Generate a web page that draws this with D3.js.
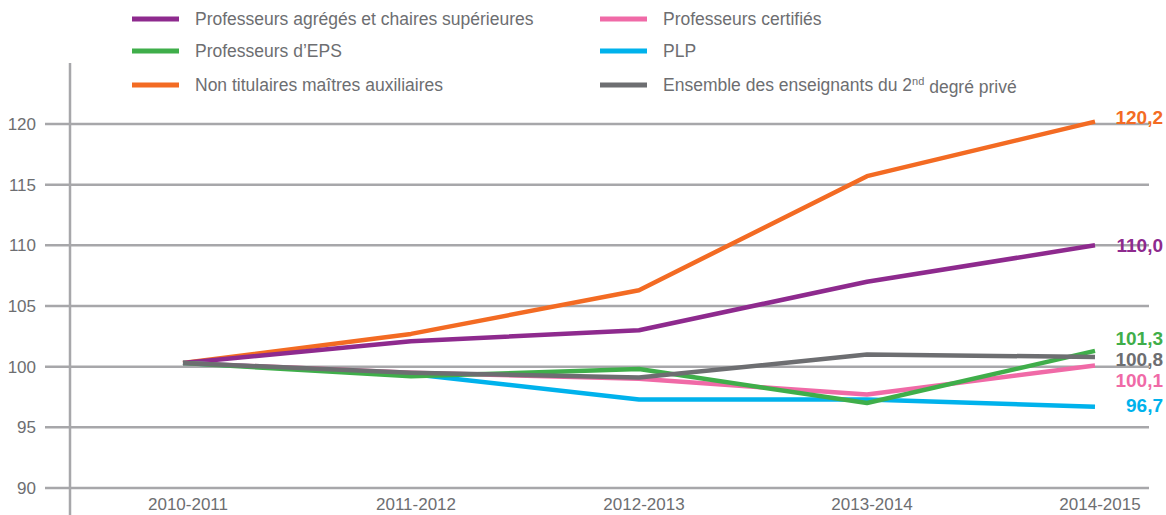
<!DOCTYPE html>
<html>
<head>
<meta charset="utf-8">
<script src="https://cdnjs.cloudflare.com/ajax/libs/d3/7.8.5/d3.min.js"></script>
<style>
body, html { margin: 0; padding: 0; background: #fff; }
svg { font-family: "Liberation Sans", Arial, sans-serif; }
.grid line { stroke: #a7a7aa; stroke-width: 2.5; }
.ylab text { fill: #6d6e71; font-size: 17px; }
.xlab text { fill: #6d6e71; font-size: 17px; }
.legend text { fill: #6d6e71; font-size: 17.5px; }
</style>
</head>
<body>
<div id="chart"></div>
<script>
// years and values
var years = ["2010-2011", "2011-2012", "2012-2013", "2013-2014", "2014-2015"];
var agreges = [100.3, 102.1, 103.0, 107.0, 110.0];
var certifies = [100.3, 99.5, 99.0, 97.7, 100.1];
var eps = [100.3, 99.2, 99.8, 97.0, 101.3];
var plp = [100.3, 99.4, 97.3, 97.3, 96.7];
var nonTitulaires = [100.3, 102.7, 106.3, 115.7, 120.2];
var ensemble = [100.3, 99.5, 99.1, 101.0, 100.8];
var yTicks = [90, 95, 100, 105, 110, 115, 120];

var series = [
  {name: "Professeurs agrégés et chaires supérieures", values: agreges, color: "#8e2a8e"},
  {name: "Professeurs certifiés", values: certifies, color: "#f06aa7"},
  {name: "Professeurs d’EPS", values: eps, color: "#3fae4a"},
  {name: "PLP", values: plp, color: "#00b2ec"},
  {name: "Non titulaires maîtres auxiliaires", values: nonTitulaires, color: "#f36b23"},
  {name: "Ensemble des enseignants du 2nd degré privé", values: ensemble, color: "#6d6e71"}
];
// draw order (back to front)
var drawOrder = [4, 0, 3, 1, 2, 5];

var W = 1166, H = 515;
var svg = d3.select("#chart").append("svg").attr("width", W).attr("height", H);

var x = d3.scalePoint().domain(years).range([183, 1095]);
var y = d3.scaleLinear().domain([90, 120]).range([488, 124]);

// gridlines
svg.append("g").attr("class", "grid")
  .selectAll("line").data(yTicks).enter().append("line")
  .attr("x1", 45).attr("x2", 1149)
  .attr("y1", function(d) { return y(d); })
  .attr("y2", function(d) { return y(d); });

// vertical axis line
svg.append("line").attr("x1", 70).attr("x2", 70).attr("y1", 63).attr("y2", H)
  .attr("stroke", "#a7a7aa").attr("stroke-width", 2.5);

// y labels
svg.append("g").attr("class", "ylab")
  .selectAll("text").data(yTicks).enter().append("text")
  .attr("x", 36).attr("y", function(d) { return y(d); })
  .attr("dy", "0.36em").attr("text-anchor", "end")
  .text(function(d) { return d; });

// x labels
svg.append("g").attr("class", "xlab")
  .selectAll("text").data(years).enter().append("text")
  .attr("x", function(d) { return x(d) + 5; }).attr("y", 510)
  .attr("text-anchor", "middle")
  .text(function(d) { return d; });

var line = d3.line()
  .x(function(d, i) { return x(years[i]); })
  .y(function(d) { return y(d); });

drawOrder.forEach(function(k) {
  var s = series[k];
  svg.append("path")
    .attr("d", line(s.values))
    .attr("fill", "none")
    .attr("stroke", s.color)
    .attr("stroke-width", 4.5)
    .attr("stroke-linejoin", "round");
});

// end value labels
var endLabels = [
  {k: 4, y: 117}, {k: 0, y: 245}, {k: 2, y: 338},
  {k: 5, y: 359}, {k: 1, y: 380}, {k: 3, y: 405}
];
svg.append("g").selectAll("text").data(endLabels).enter().append("text")
  .attr("x", 1163).attr("y", function(d) { return d.y; })
  .attr("dy", "0.36em").attr("text-anchor", "end")
  .attr("font-weight", "bold").attr("font-size", "19px")
  .attr("fill", function(d) { return series[d.k].color; })
  .text(function(d) {
    var v = series[d.k].values;
    return d3.format(".1f")(v[v.length - 1]).replace(".", ",");
  });

// legend
var legend = svg.append("g").attr("class", "legend");
series.forEach(function(s, i) {
  var col = i % 2, row = Math.floor(i / 2);
  var lx = col === 0 ? 132 : 600;
  var ly = [19, 51, 85][row];
  legend.append("line")
    .attr("x1", lx).attr("x2", lx + 47).attr("y1", ly).attr("y2", ly)
    .attr("stroke", s.color).attr("stroke-width", 5);
  var t = legend.append("text").attr("x", lx + 63).attr("y", ly).attr("dy", "0.36em");
  if (i === 5) {
    t.append("tspan").text("Ensemble des enseignants du 2");
    t.append("tspan").attr("font-size", "11px").attr("dy", "-0.6em").text("nd");
    t.append("tspan").attr("dy", "0.45em").text(" degré privé");
  } else {
    t.text(s.name);
  }
});
</script>
</body>
</html>
